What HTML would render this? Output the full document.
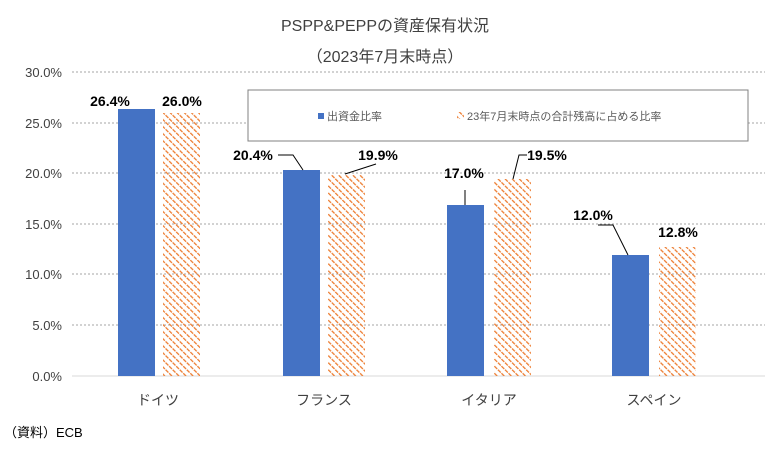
<!DOCTYPE html>
<html><head><meta charset="utf-8"><style>
body{margin:0;background:#fff}
text{font-family:"Liberation Sans","Noto Sans CJK JP",sans-serif}
</style></head><body>
<svg width="770" height="460" xmlns="http://www.w3.org/2000/svg">
<defs>
<pattern id="h" width="5" height="5" patternUnits="userSpaceOnUse" patternTransform="rotate(-45)">
<line x1="0" y1="0" x2="0" y2="5" stroke="#ED7D31" stroke-width="2.6" stroke-dasharray="2.5 1"/>
</pattern>
</defs>
<rect width="770" height="460" fill="#fff"/>
<text x="385" y="31" font-size="16" text-anchor="middle" fill="#404040">PSPP&amp;PEPPの資産保有状況</text>
<text x="385" y="62" font-size="16" text-anchor="middle" fill="#404040">（2023年7月末時点）</text>
<g stroke="#a6a6a6" stroke-dasharray="2 2" stroke-width="1">
<line x1="72" y1="72" x2="765" y2="72"/><line x1="72" y1="123" x2="765" y2="123"/>
<line x1="72" y1="173" x2="765" y2="173"/><line x1="72" y1="224" x2="765" y2="224"/>
<line x1="72" y1="274" x2="765" y2="274"/><line x1="72" y1="325" x2="765" y2="325"/>
</g>
<line x1="72" y1="376" x2="765" y2="376" stroke="#d9d9d9"/>
<g font-size="13" fill="#404040" text-anchor="end">
<text x="62" y="77">30.0%</text><text x="62" y="128">25.0%</text><text x="62" y="178">20.0%</text>
<text x="62" y="229">15.0%</text><text x="62" y="279">10.0%</text><text x="62" y="330">5.0%</text><text x="62" y="381">0.0%</text>
</g>
<rect x="248" y="90" width="500" height="51" fill="#fff" stroke="#808080"/>
<rect x="318" y="113" width="6" height="6" fill="#4472C4"/>
<text x="327" y="120" font-size="11" fill="#595959">出資金比率</text>
<rect x="457" y="112" width="7" height="7" fill="url(#h)"/>
<text x="467" y="120" font-size="11" fill="#595959">23年7月末時点の合計残高に占める比率</text>
<g fill="#4472C4">
<rect x="118" y="109" width="37" height="267"/><rect x="283" y="170" width="37" height="206"/>
<rect x="447" y="205" width="37" height="171"/><rect x="612" y="255" width="37" height="121"/>
</g>
<g fill="url(#h)">
<rect x="163" y="113" width="37" height="263"/><rect x="328" y="175" width="37" height="201"/>
<rect x="494" y="179" width="37" height="197"/><rect x="659" y="247" width="37" height="129"/>
</g>
<g stroke="#000" fill="none" stroke-width="1">
<polyline points="278,155 293,155 303,170"/><polyline points="345,174 376,164"/>
<line x1="465" y1="190" x2="465" y2="205"/><polyline points="513,179 519,155 527,155"/>
<polyline points="598,225 613,225 628,255"/>
</g>
<g font-size="14" font-weight="bold" fill="#000" text-anchor="middle">
<text x="110" y="106">26.4%</text><text x="182" y="106">26.0%</text>
<text x="253" y="160">20.4%</text><text x="378" y="160">19.9%</text>
<text x="464" y="178">17.0%</text><text x="547" y="160">19.5%</text>
<text x="593" y="220">12.0%</text><text x="678" y="237">12.8%</text>
</g>
<g font-size="14" fill="#404040" text-anchor="middle">
<text x="158" y="405">ドイツ</text><text x="324" y="405">フランス</text>
<text x="489" y="405">イタリア</text><text x="654" y="405">スペイン</text>
</g>
<text x="4" y="437" font-size="13" fill="#000">（資料）ECB</text>
</svg>
</body></html>
